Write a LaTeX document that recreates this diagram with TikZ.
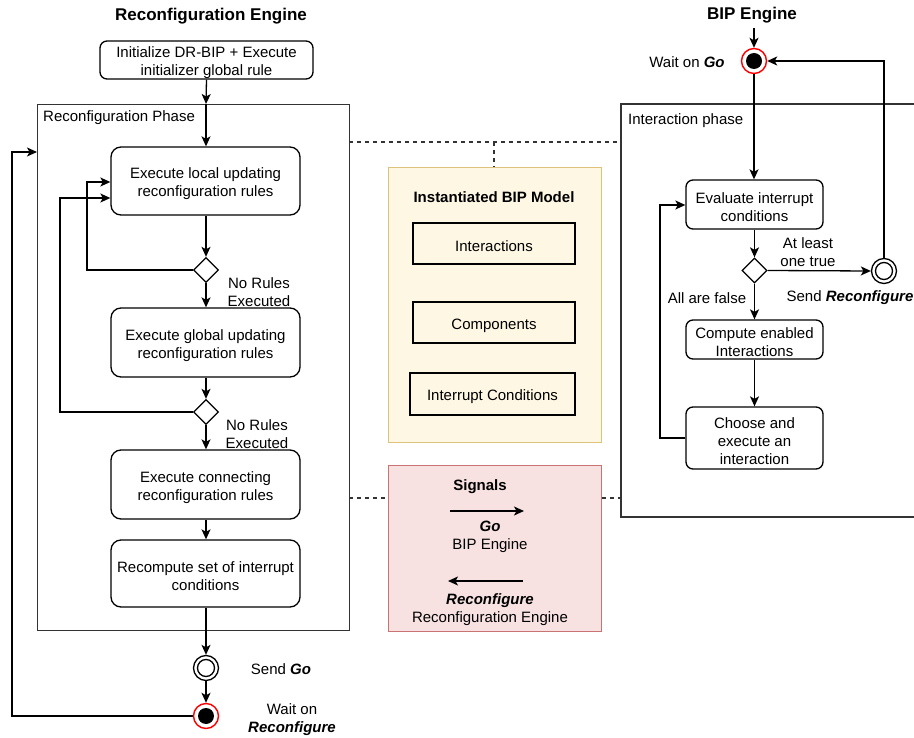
\documentclass[tikz,border=0pt]{standalone}
\usepackage{fontspec}
\setmainfont{Liberation Sans}
\usetikzlibrary{arrows.meta,shapes.geometric,calc}
\definecolor{ybg}{HTML}{FEF7E4}
\definecolor{ybd}{HTML}{DCC27A}
\definecolor{rbg}{HTML}{F7E1E1}
\definecolor{rbd}{HTML}{C97472}
\definecolor{cont}{HTML}{333333}
\begin{document}
\begin{tikzpicture}[x=1pt,y=-1pt,
  every node/.style={font=\fontsize{15}{18}\selectfont, align=center},
  ttl/.style={font=\fontsize{17}{20}\selectfont\bfseries},
  lbl/.style={inner sep=0pt},
  txt/.style={label={[lbl,yshift=-3pt]center:{#1}}},
  bbox/.style={draw, rounded corners=10pt, line width=1.3pt, minimum width=189pt, inner sep=0pt},
  sbox/.style={draw, rounded corners=7pt, line width=1.3pt, minimum width=137pt, inner sep=0pt},
  ibox/.style={draw, line width=1.3pt, minimum height=41pt, inner sep=0pt},
  dec/.style={draw, diamond, line width=1.3pt, minimum width=25pt, minimum height=25pt, inner sep=0pt},
  cnt/.style={draw=cont, line width=1.3pt, inner sep=0pt, anchor=north west},
  arr/.style={-{Stealth[length=10pt,width=9pt,inset=2.5pt]}, line width=1.3pt},
  dashline/.style={draw=cont, line width=1.1pt, dash pattern=on 4pt off 4pt},
  endst/.style={circle, draw, line width=1.3pt, minimum size=25pt, inner sep=0pt},
  waitst/.style={circle, draw=red, line width=1.4pt, fill=white, minimum size=25pt, inner sep=0pt}]
\useasboundingbox (0,0) rectangle (914,738);

% ---------------- Reconfiguration Engine ----------------
\node[ttl] (t1) at (211,16) {Reconfiguration Engine};
\node[bbox, rounded corners=7pt, minimum width=213pt, minimum height=38pt, txt={Initialize DR-BIP + Execute\\initializer global rule}] (init) at (206.5,60) {};
\node[cnt, minimum width=312pt, minimum height=526pt] (rp) at (37,104) {};
\node[lbl, anchor=west] (rpl) at (43,118) {Reconfiguration Phase};

\node[bbox, minimum height=68pt, txt={Execute local updating\\reconfiguration rules}] (b1) at (205.5,181) {};
\node[dec] (d1) at (206,270) {};
\node[bbox, minimum height=69pt, txt={Execute global updating\\reconfiguration rules}] (b2) at (205.5,342.5) {};
\node[dec] (d2) at (206,412) {};
\node[bbox, minimum height=69pt, txt={Execute connecting\\reconfiguration rules}] (b3) at (205.5,484.5) {};
\node[bbox, minimum height=67pt, txt={Recompute set of interrupt\\conditions}] (b4) at (205.5,573.5) {};
\node[endst] (sg) at (206,668) {};
\draw[line width=1.3pt] (sg.center) circle[radius=8.5pt];
\node[waitst] (wr) at (206,716) {};
\fill (wr.center) circle[radius=8pt];

\node[lbl] (nr1) at (259,292) {No Rules\\Executed};
\node[lbl] (nr2) at (257,434) {No Rules\\Executed};
\node[lbl] (sgl) at (281,669) {Send \textbf{\textit{Go}}};
\node[lbl] (wrl) at (292,720) {Wait on\\\textbf{\textit{Reconfigure}}};

\coordinate (rptop) at (206,104);
\draw[arr] (init.south) -- (rptop);
\draw[arr] (rptop) -- (b1.north -| rptop);
\draw[arr] (b1.south -| d1) -- (d1.north);
\draw[arr] (d1.south) -- (b2.north -| d1);
\draw[arr] (b2.south -| d2) -- (d2.north);
\draw[arr] (d2.south) -- (b3.north -| d2);
\draw[arr] (b3.south -| d2) -- (b4.north -| d2);
\draw[arr] (b4.south -| sg) -- (sg.north);
\draw[arr] (sg.south) -- (wr.north);

\coordinate (l1) at (87,182);
\coordinate (l2) at (60,198);
\coordinate (l3) at (12,152);
\draw[arr] (d1.west) -| (l1) -- (l1 -| b1.west);
\draw[arr] (d2.west) -| (l2) -- (l2 -| b1.west);
\draw[arr] (wr.west) -| (l3) -- (l3 -| rp.west);

% ---------------- BIP Engine ----------------
\node[ttl] (t2) at (752,15) {BIP Engine};
\node[waitst] (wg) at (754,61) {};
\fill (wg.center) circle[radius=8pt];
\node[lbl] (wgl) at (687,62) {Wait on \textbf{\textit{Go}}};
\coordinate (bipin) at (754,28);
\draw[arr] (bipin) -- (wg.north);

\coordinate (ipa) at (914,104);
\coordinate (ipb) at (621,104);
\coordinate (ipc) at (621,517);
\coordinate (ipd) at (914,517);
\draw[draw=cont, line width=1.3pt] (ipa) -- (ipb) -- (ipc) -- (ipd);
\node[lbl, anchor=west] (ipl) at (628,121) {Interaction phase};

\node[sbox, minimum height=49pt, txt={Evaluate interrupt\\conditions}] (ev) at (754.5,204.5) {};
\node[dec] (d3) at (754.5,270.5) {};
\node[endst] (sr) at (884,271) {};
\draw[line width=1.3pt] (sr.center) circle[radius=8.5pt];
\node[sbox, minimum height=39pt, txt={Compute enabled\\Interactions}] (cp) at (754.5,339.5) {};
\node[sbox, minimum height=62pt, txt={Choose and\\execute an\\interaction}] (ch) at (754.5,438) {};

\node[lbl] (alt) at (808,252) {At least\\one true};
\node[lbl] (aaf) at (707,298) {All are false};
\node[lbl] (srl) at (850,298) {Send \textbf{\textit{Reconfigure}}};

\draw[arr] (wg.south) -- (ev.north -| wg);
\draw[arr] (ev.south -| d3) -- (d3.north);
\draw[arr] (d3.east) -- (sr.west);
\draw[arr] (d3.south) -- (cp.north -| d3);
\draw[arr] (cp.south) -- (ch.north);
\draw[arr] (sr.north) |- (wg.east);
\coordinate (r1) at (660,205);
\draw[arr] (ch.west) -| (r1) -- (r1 -| ev.west);

% ---------------- Middle ----------------
\node[draw=ybd, fill=ybg, line width=1.3pt, minimum width=213pt, minimum height=275pt, inner sep=0pt, anchor=north west] (ym) at (388,167) {};
\node[lbl, font=\fontsize{15}{18}\selectfont\bfseries] (yt) at (494,197) {Instantiated BIP Model};
\node[ibox, minimum width=162pt, txt={Interactions}] (i1) at (494,243.5) {};
\node[ibox, minimum width=162pt, txt={Components}] (i2) at (494,322.5) {};
\node[ibox, minimum width=165pt, minimum height=42pt, txt={Interrupt Conditions}] (i3) at (492.5,394) {};

\node[draw=rbd, fill=rbg, line width=1.3pt, minimum width=213pt, minimum height=166pt, inner sep=0pt, anchor=north west] (rs) at (388,465) {};
\node[lbl, font=\fontsize{15}{18}\selectfont\bfseries] (st) at (480,487) {Signals};
\coordinate (ga) at (450,511);
\coordinate (gb) at (524,511);
\draw[arr] (ga) -- (gb);
\node[lbl] (gol) at (490,537) {\textbf{\textit{Go}}\\BIP Engine};
\coordinate (ra) at (523,581);
\coordinate (rb) at (448,581);
\draw[arr] (ra) -- (rb);
\node[lbl] (rcl) at (490,610) {\textbf{\textit{Reconfigure}}\\Reconfiguration Engine};

\coordinate (dl) at (349,142);
\coordinate (dr) at (621,142);
\coordinate (dm) at (494,142);
\draw[dashline] (dl) -- (dr);
\draw[dashline] (dm) -- (ym.north -| dm);
\coordinate (dl2) at (349,498);
\coordinate (dr2) at (621,498);
\draw[dashline] (dl2) -- (dl2 -| rs.west);
\draw[dashline] (dl2 -| rs.east) -- (dr2);
\end{tikzpicture}
\end{document}
